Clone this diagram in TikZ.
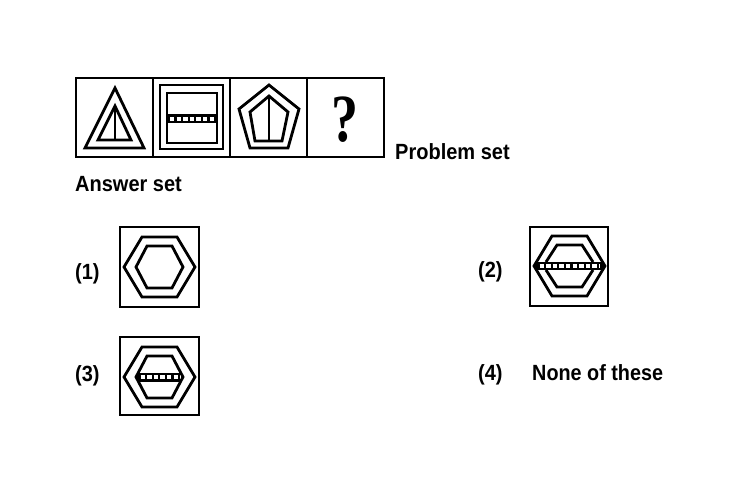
\documentclass[tikz,border=0pt]{standalone}
\usepackage{fontspec}
\setmainfont{Liberation Sans}
\newfontfamily\qserif{Liberation Serif}
\begin{document}
\begin{tikzpicture}[x=1pt,y=-1pt,
  frame/.style={line width=2pt},
  shp/.style={line width=2.8pt,line join=miter},
  lbl/.style={anchor=base west,inner sep=0pt,font=\bfseries\fontsize{20}{22}\selectfont},
  whitedash/.style={white,line width=4pt,dash pattern=on 4.4pt off 2.2pt}]
\useasboundingbox (0,0) rectangle (750,500);
% problem set frame
\draw[frame] (76,78) rectangle (384,157);
\draw[frame] (153,78) -- (153,157) (230,78) -- (230,157) (307,78) -- (307,157);
% triangle
\draw[shp] (85,148) -- (115,88) -- (144,148) -- cycle;
\draw[shp] (98,140) -- (115,106) -- (131,140) -- cycle;
\draw[shp] (115,106) -- (115,140);
% square
\draw[shp] (160,85) rectangle (223,149);
\draw[shp] (167,93) rectangle (217,143);
\fill (167,114.5) rectangle (217,123.5);
\draw[whitedash] (170,119) -- (215,119);
% pentagon
\draw[shp] (269,85) -- (299,109) -- (288,148) -- (250,148) -- (239,109) -- cycle;
\draw[shp] (269,96) -- (288,112) -- (282,141) -- (255,141) -- (250,112) -- cycle;
\draw[shp] (269,96) -- (269,141);
% question mark
\node[anchor=base,inner sep=0pt] (q) at (345,142) {\scalebox{1}[1.25]{\qserif\bfseries\fontsize{54}{60}\selectfont ?}};
% texts
\node[lbl] (ps) at (395,160) {\scalebox{1}[1.1]{Problem set}};
\node[lbl] (as) at (75,192) {\scalebox{1}[1.1]{Answer set}};
\node[lbl] (l1) at (75,279) {\scalebox{1}[1.1]{(1)}};
\node[lbl] (l2) at (478,277) {\scalebox{1}[1.1]{(2)}};
\node[lbl] (l3) at (75,381) {\scalebox{1}[1.1]{(3)}};
\node[lbl] (l4) at (478,380) {\scalebox{1}[1.1]{(4)}};
\node[lbl] (none) at (532,380) {\scalebox{0.99}[1.1]{None of these}};
% answer 1
\draw[frame] (120,227) rectangle (199,307);
\begin{scope}[shift={(159.5,267)}]
\draw[shp] (-35.5,0) -- (-17.5,-30) -- (17.5,-30) -- (35.5,0) -- (17.5,30) -- (-17.5,30) -- cycle;
\draw[shp] (-23.5,0) -- (-12.5,-21) -- (12.5,-21) -- (23.5,0) -- (12.5,21) -- (-12.5,21) -- cycle;
\end{scope}
% answer 2
\draw[frame] (530,227) rectangle (608,306);
\begin{scope}[shift={(569.5,266)}]
\begin{scope}
\clip (-35.5,0) -- (-17.5,-30) -- (17.5,-30) -- (35.5,0) -- (17.5,30) -- (-17.5,30) -- cycle;
\fill (-36,-4) rectangle (36,4);
\draw[whitedash] (-30,0) -- (30,0);
\end{scope}
\draw[shp] (-35.5,0) -- (-17.5,-30) -- (17.5,-30) -- (35.5,0) -- (17.5,30) -- (-17.5,30) -- cycle;
\draw[shp] (-23.5,-4) -- (-12.5,-21) -- (12.5,-21) -- (23.5,-4);
\draw[shp] (-23.5,4) -- (-12.5,21) -- (12.5,21) -- (23.5,4);
\end{scope}
% answer 3
\draw[frame] (120,337) rectangle (199,415);
\begin{scope}[shift={(159.5,377)}]
\begin{scope}
\clip (-23.5,0) -- (-12.5,-21) -- (12.5,-21) -- (23.5,0) -- (12.5,21) -- (-12.5,21) -- cycle;
\fill (-24,-4.5) rectangle (24,4.5);
\draw[whitedash] (-19,0) -- (21,0);
\end{scope}
\draw[shp] (-35.5,0) -- (-17.5,-30) -- (17.5,-30) -- (35.5,0) -- (17.5,30) -- (-17.5,30) -- cycle;
\draw[shp] (-23.5,0) -- (-12.5,-21) -- (12.5,-21) -- (23.5,0) -- (12.5,21) -- (-12.5,21) -- cycle;
\end{scope}
\end{tikzpicture}
\end{document}
